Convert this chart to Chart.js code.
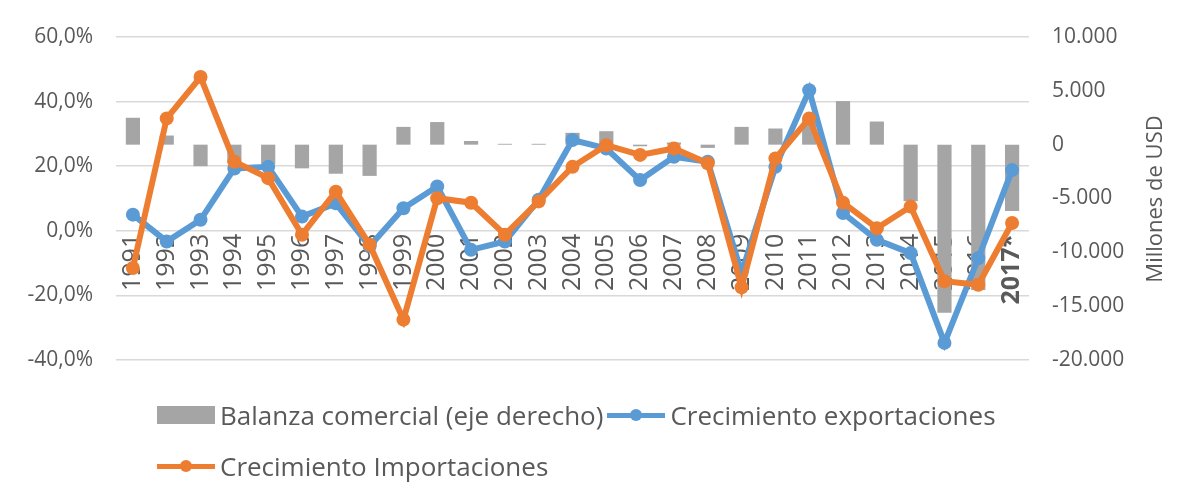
<!DOCTYPE html>
<html>
<head>
<meta charset="utf-8">
<script src="https://cdn.jsdelivr.net/npm/chart.js@4/dist/chart.umd.min.js"></script>
<style>
  html, body { margin: 0; padding: 0; background: #fff; }
  #wrap { position: relative; width: 1191px; height: 502px; }
  #legend { position: absolute; left: 157px; top: 396px; width: 860px; display: flex; flex-wrap: wrap;
            font-family: 'Open Sans', sans-serif; font-size: 26px; color: #595959; row-gap: 13px; }
  .item { display: flex; align-items: center; height: 38px; margin-right: 4px; }
  .sym { position: relative; width: 58px; height: 38px; margin-right: 5px; }
  .box { position: absolute; left: 0; top: 10px; width: 58px; height: 18px; }
  .ln { position: absolute; left: 0; top: 17px; width: 58px; height: 5px; }
  .dot { position: absolute; left: 23px; top: 13px; width: 12px; height: 12px; border-radius: 50%; }
</style>
</head>
<body>
<div id="wrap">
  <canvas id="chart" width="1191" height="502"></canvas>
  <div id="legend"></div>
</div>
<script>
// Datos
const years = ['1991', '1992', '1993', '1994', '1995', '1996', '1997', '1998', '1999', '2000',
               '2001', '2002', '2003', '2004', '2005', '2006', '2007', '2008', '2009', '2010',
               '2011', '2012', '2013', '2014', '2015', '2016', '2017*'];
// Millones de USD (eje derecho)
const balanza = [2500, 850, -2000, -1700, -1850, -2200, -2700, -2900, 1650, 2100,
                 340, 80, 80, 1100, 1250, -150, 200, -300, 1650, 1500,
                 2500, 4050, 2150, -5250, -15600, -13500, -6150];
// Porcentaje (eje izquierdo)
const exportaciones = [5.0, -3.3, 3.4, 19.3, 19.8, 4.4, 8.5, -4.8, 7.0, 13.7,
                       -5.9, -3.3, 9.6, 28.1, 25.5, 15.7, 22.9, 21.4, -13.0, 19.8,
                       43.5, 5.5, -2.8, -6.9, -34.7, -8.5, 18.8];
const importaciones = [-11.5, 34.8, 47.6, 21.4, 16.3, -1.2, 12.1, -4.3, -27.5, 10.1,
                       8.7, -1.2, 9.1, 19.8, 26.5, 23.5, 25.5, 20.9, -17.5, 22.4,
                       34.8, 8.7, 0.8, 7.5, -15.6, -16.7, 2.4];

const gris = '#A5A5A5';
const azul = '#5B9BD5';
const naranja = '#ED7D31';
const texto = '#595959';
const fuente = "'Open Sans', sans-serif";

// Titulo del eje derecho, leido de abajo hacia arriba
const tituloDerecho = {
    id: 'tituloDerecho',
    afterDraw(chart) {
        const ctx = chart.ctx;
        ctx.save();
        ctx.translate(1156, 199);
        ctx.rotate(-Math.PI / 2);
        ctx.font = "22px " + fuente;
        ctx.fillStyle = texto;
        ctx.textAlign = 'center';
        ctx.textBaseline = 'middle';
        ctx.fillText('Millones de USD', 0, 0);
        ctx.restore();
    }
};

const chart = new Chart(document.getElementById('chart'), {
    type: 'bar',
    data: {
        labels: years,
        datasets: [{
            type: 'bar',
            label: 'Balanza comercial (eje derecho)',
            data: balanza,
            backgroundColor: gris,
            yAxisID: 'y1',
            barPercentage: 0.42,
            categoryPercentage: 1,
            order: 3
        }, {
            type: 'line',
            label: 'Crecimiento exportaciones',
            data: exportaciones,
            borderColor: azul,
            backgroundColor: azul,
            borderWidth: 6,
            pointRadius: 7,
            pointBorderWidth: 0,
            tension: 0,
            yAxisID: 'y',
            order: 2
        }, {
            type: 'line',
            label: 'Crecimiento Importaciones',
            data: importaciones,
            borderColor: naranja,
            backgroundColor: naranja,
            borderWidth: 6,
            pointRadius: 7,
            pointBorderWidth: 0,
            tension: 0,
            yAxisID: 'y',
            order: 1
        }]
    },
    options: {
        responsive: false,
        animation: false,
        layout: {
            padding: { top: 37, bottom: 142, left: 0, right: 0 }
        },
        scales: {
            x: {
                position: { y: 0 },
                grid: { display: false, drawTicks: false },
                border: { display: false },
                ticks: {
                    autoSkip: false,
                    minRotation: 90,
                    maxRotation: 90,
                    padding: 3,
                    color: texto,
                    font: (ctx) => ({
                        family: fuente,
                        size: 25,
                        weight: ctx.index === years.length - 1 ? 'bold' : 'normal'
                    })
                }
            },
            y: {
                position: 'left',
                min: -40,
                max: 60,
                grid: { color: '#D9D9D9', lineWidth: 1.5, drawTicks: false },
                border: { display: false },
                ticks: {
                    stepSize: 20,
                    padding: 23,
                    color: texto,
                    font: { family: fuente, size: 21 },
                    callback: (v) => v.toFixed(1).replace('.', ',') + '%'
                },
                afterFit: (scale) => { scale.width = 116; }
            },
            y1: {
                position: 'right',
                min: -20000,
                max: 10000,
                grid: { display: false, drawTicks: false },
                border: { display: false },
                ticks: {
                    stepSize: 5000,
                    padding: 23,
                    color: texto,
                    font: { family: fuente, size: 21 },
                    callback: (v) => String(v).replace(/\B(?=(\d{3})+(?!\d))/g, '.')
                },
                afterFit: (scale) => { scale.width = 162; }
            }
        },
        plugins: {
            legend: { display: false },
            tooltip: { enabled: false }
        }
    },
    plugins: [tituloDerecho]
});

// Leyenda
const legend = document.getElementById('legend');
chart.data.datasets.forEach((ds) => {
    const item = document.createElement('div');
    item.className = 'item';
    const sym = document.createElement('span');
    sym.className = 'sym';
    if (ds.type === 'bar') {
        sym.innerHTML = '<span class="box" style="background:' + ds.backgroundColor + '"></span>';
    } else {
        sym.innerHTML = '<span class="ln" style="background:' + ds.borderColor + '"></span>' +
                        '<span class="dot" style="background:' + ds.borderColor + '"></span>';
    }
    const txt = document.createElement('span');
    txt.textContent = ds.label;
    item.appendChild(sym);
    item.appendChild(txt);
    legend.appendChild(item);
});
</script>
</body>
</html>
